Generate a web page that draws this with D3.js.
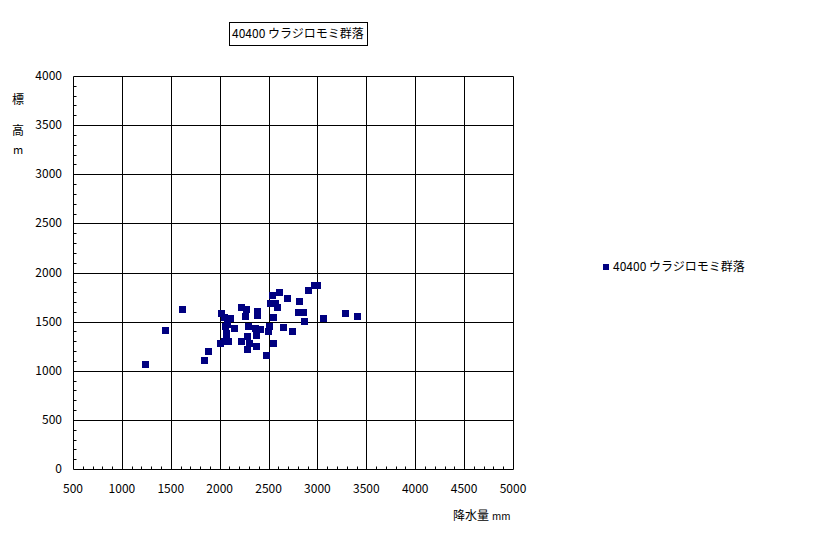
<!DOCTYPE html>
<html>
<head>
<meta charset="utf-8">
<script src="https://cdn.jsdelivr.net/npm/d3@7"></script>
<style>
  body { margin: 0; background: #fff; }
  text { font-family: "Noto Sans CJK JP", "DejaVu Sans", sans-serif; font-size: 12px; fill: #000; }
</style>
</head>
<body>
<div id="chart"></div>
<script>
// 降水量 (mm) vs 標高 (m)
var seriesName = "40400 ウラジロモミ群落";
var precip = [1240, 1445, 1610, 1835, 1885, 2015, 2040, 2110, 2215, 2270,
              2255, 2070, 2055, 2145, 2290, 2060, 2060, 2005, 2045, 2090,
              2220, 2275, 2275, 2295, 2370, 2370, 2380, 2380, 2360, 2415,
              2470, 2500, 2490, 2510, 2540, 2605, 2570, 2590, 2550, 2550,
              2645, 2685, 2735, 2810, 2805, 2850, 2865, 2900, 2960, 3000,
              3060, 3280, 3400];
var elev = [1070, 1415, 1630, 1110, 1205, 1590, 1550, 1540, 1650, 1625,
            1560, 1480, 1455, 1435, 1460, 1385, 1345, 1285, 1305, 1300,
            1300, 1355, 1225, 1285, 1365, 1255, 1605, 1565, 1440, 1420,
            1165, 1460, 1400, 1690, 1775, 1805, 1685, 1650, 1550, 1285,
            1445, 1740, 1405, 1710, 1600, 1600, 1510, 1820, 1875, 1875,
            1540, 1590, 1560];
var xTicks = [500, 1000, 1500, 2000, 2500, 3000, 3500, 4000, 4500, 5000];
var yTicks = [0, 500, 1000, 1500, 2000, 2500, 3000, 3500, 4000];

var points = precip.map(function(d, i) { return {x: d, y: elev[i]}; });

var svg = d3.select("#chart").append("svg")
  .attr("width", 816)
  .attr("height", 534);

var x = d3.scaleLinear().domain([500, 5000]).range([73, 513]);
var y = d3.scaleLinear().domain([0, 4000]).range([469, 76]);

function px(v) { return Math.round(v) + 0.5; }

var plot = svg.append("g");

// minor ticks every 100
plot.selectAll(".xminor")
  .data(d3.range(600, 5000, 100).filter(function(d) { return d % 500 !== 0; }))
  .enter().append("line")
  .attr("x1", function(d) { return px(x(d)); })
  .attr("x2", function(d) { return px(x(d)); })
  .attr("y1", px(y(0)))
  .attr("y2", px(y(0)) - 3)
  .attr("stroke", "#000");

plot.selectAll(".yminor")
  .data(d3.range(100, 4000, 100).filter(function(d) { return d % 500 !== 0; }))
  .enter().append("line")
  .attr("x1", px(x(500)))
  .attr("x2", px(x(500)) + 3)
  .attr("y1", function(d) { return px(y(d)); })
  .attr("y2", function(d) { return px(y(d)); })
  .attr("stroke", "#000");

// grid
plot.selectAll(".vgrid")
  .data(xTicks)
  .enter().append("line")
  .attr("x1", function(d) { return px(x(d)); })
  .attr("x2", function(d) { return px(x(d)); })
  .attr("y1", px(y(0)))
  .attr("y2", px(y(4000)))
  .attr("stroke", "#000");

plot.selectAll(".hgrid")
  .data(yTicks)
  .enter().append("line")
  .attr("x1", px(x(500)))
  .attr("x2", px(x(5000)))
  .attr("y1", function(d) { return px(y(d)); })
  .attr("y2", function(d) { return px(y(d)); })
  .attr("stroke", "#000");

// tick labels
plot.selectAll(".xlab")
  .data(xTicks)
  .enter().append("text")
  .attr("x", function(d) { return x(d); })
  .attr("y", 493)
  .attr("text-anchor", "middle")
  .text(function(d) { return d; });

plot.selectAll(".ylab")
  .data(yTicks)
  .enter().append("text")
  .attr("x", 62)
  .attr("y", function(d) { return y(d) + 4; })
  .attr("text-anchor", "end")
  .text(function(d) { return d; });

// axis titles
var xt = svg.append("text").attr("x", 453).attr("y", 520);
xt.append("tspan").text("降水量");
xt.append("tspan").attr("dx", 3).style("font-size", "10px").text("mm");
svg.append("text").attr("x", 18).attr("y", 104).attr("text-anchor", "middle").text("標");
svg.append("text").attr("x", 18).attr("y", 135).attr("text-anchor", "middle").text("高");
svg.append("text").attr("x", 18).attr("y", 154).attr("text-anchor", "middle").style("font-size", "11px").text("m");

// points
plot.selectAll(".pt")
  .data(points)
  .enter().append("rect")
  .attr("x", function(d) { return Math.round(x(d.x)) - 3; })
  .attr("y", function(d) { return Math.round(y(d.y)) - 3; })
  .attr("width", 7)
  .attr("height", 7)
  .attr("fill", "#000080");

// title box
var titleBox = svg.append("rect")
  .attr("x", 229.5)
  .attr("y", 22.5)
  .attr("height", 23)
  .attr("fill", "#fff")
  .attr("stroke", "#000");
var title = svg.append("text").attr("x", 232).attr("y", 38).text(seriesName);
titleBox.attr("width", Math.round(title.node().getBBox().width) + 6);

// legend
svg.append("rect").attr("x", 603).attr("y", 264).attr("width", 6).attr("height", 6).attr("fill", "#000080");
svg.append("text").attr("x", 613).attr("y", 271).text(seriesName);
</script>
</body>
</html>
